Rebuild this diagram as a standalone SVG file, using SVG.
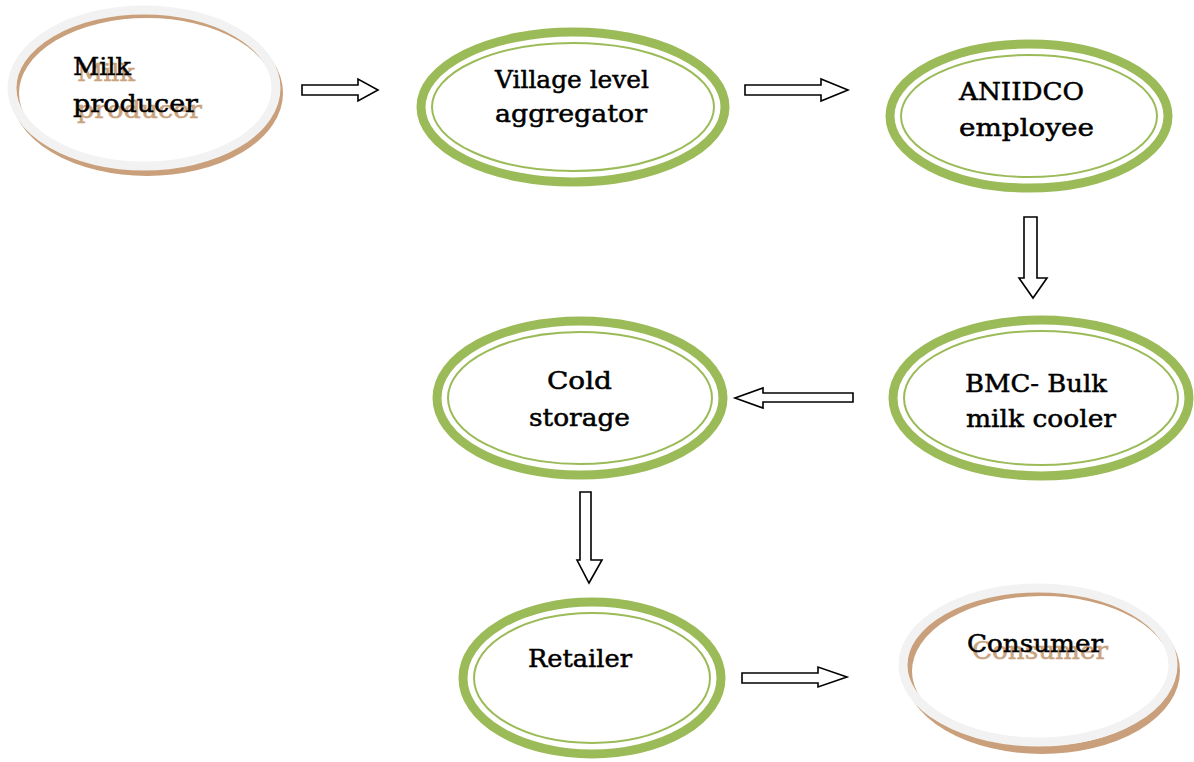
<svg xmlns="http://www.w3.org/2000/svg" width="1194" height="762" viewBox="0 0 1194 762">
  <defs>
    <style>
      .ring-out { fill: #ffffff; stroke: #9bbb59; stroke-width: 9; }
      .ring-in { fill: none; stroke: #9bbb59; stroke-width: 2; }
      .plate-fill { fill: #ffffff; stroke: none; }
      .plate { fill: none; stroke: #f2f2f2; stroke-width: 9; }
      .plate-edge { fill: none; stroke: #c9a07b; stroke-width: 8; }
      .lbl { font-family: "DejaVu Serif", "Liberation Serif", serif; font-size: 24px; fill: #000000; stroke: #000000; stroke-width: 0.5; }
      .shadow { fill: #c9a27e; stroke: #c9a27e; }
      .arrow { fill: #ffffff; stroke: #000000; stroke-width: 1.6; stroke-linejoin: miter; }
    </style>
  </defs>

  <rect width="1194" height="762" fill="#ffffff"/>

  <!-- Milk producer: grey plate with a brown rim showing below-right -->
  <g id="milk-producer">
    <ellipse class="plate-fill" cx="144" cy="90" rx="134" ry="82"/>
    <ellipse class="plate-edge" cx="147" cy="93" rx="132" ry="79"/>
    <ellipse class="plate" cx="144" cy="88" rx="132" ry="78"/>
    <text class="lbl shadow" x="77" y="81" textLength="58" lengthAdjust="spacingAndGlyphs">Milk</text>
    <text class="lbl shadow" x="77" y="118" textLength="125" lengthAdjust="spacingAndGlyphs">producer</text>
    <text class="lbl" x="73" y="75" textLength="58" lengthAdjust="spacingAndGlyphs">Milk</text>
    <text class="lbl" x="73" y="112" textLength="125" lengthAdjust="spacingAndGlyphs">producer</text>
  </g>

  <!-- Village level aggregator -->
  <g id="village-aggregator">
    <ellipse class="ring-out" cx="573" cy="107" rx="152" ry="75"/>
    <ellipse class="ring-in" cx="573" cy="107" rx="141" ry="64"/>
    <text class="lbl" x="495" y="88" textLength="154" lengthAdjust="spacingAndGlyphs">Village level</text>
    <text class="lbl" x="495" y="122" textLength="152" lengthAdjust="spacingAndGlyphs">aggregator</text>
  </g>

  <!-- ANIIDCO employee -->
  <g id="aniidco-employee">
    <ellipse class="ring-out" cx="1029" cy="116" rx="139" ry="72"/>
    <ellipse class="ring-in" cx="1029" cy="116" rx="128" ry="61"/>
    <text class="lbl" x="959" y="100" textLength="125" lengthAdjust="spacingAndGlyphs">ANIIDCO</text>
    <text class="lbl" x="959" y="136" textLength="135" lengthAdjust="spacingAndGlyphs">employee</text>
  </g>

  <!-- BMC - Bulk milk cooler -->
  <g id="bmc">
    <ellipse class="ring-out" cx="1041" cy="398" rx="148" ry="78"/>
    <ellipse class="ring-in" cx="1041" cy="398" rx="137" ry="67"/>
    <text class="lbl" x="965" y="392" textLength="142" lengthAdjust="spacingAndGlyphs">BMC- Bulk</text>
    <text class="lbl" x="966" y="427" textLength="150" lengthAdjust="spacingAndGlyphs">milk cooler</text>
  </g>

  <!-- Cold storage -->
  <g id="cold-storage">
    <ellipse class="ring-out" cx="580" cy="398" rx="143" ry="77"/>
    <ellipse class="ring-in" cx="580" cy="398" rx="132" ry="66"/>
    <text class="lbl" x="547" y="389" textLength="65" lengthAdjust="spacingAndGlyphs">Cold</text>
    <text class="lbl" x="529" y="426" textLength="101" lengthAdjust="spacingAndGlyphs">storage</text>
  </g>

  <!-- Retailer -->
  <g id="retailer">
    <ellipse class="ring-out" cx="592" cy="678" rx="129" ry="76"/>
    <ellipse class="ring-in" cx="592" cy="678" rx="118" ry="65"/>
    <text class="lbl" x="528" y="667" textLength="104" lengthAdjust="spacingAndGlyphs">Retailer</text>
  </g>

  <!-- Consumer: grey plate with a brown rim showing below-right -->
  <g id="consumer">
    <ellipse class="plate-fill" cx="1039" cy="667" rx="137" ry="81"/>
    <ellipse class="plate-edge" cx="1042" cy="671" rx="134" ry="79"/>
    <ellipse class="plate" cx="1038" cy="665" rx="135" ry="77"/>
    <text class="lbl shadow" x="972" y="659" textLength="136" lengthAdjust="spacingAndGlyphs">Consumer</text>
    <text class="lbl" x="967" y="652" textLength="136" lengthAdjust="spacingAndGlyphs">Consumer</text>
  </g>

  <!-- Block arrows between stages -->
  <g id="connectors">
    <polygon class="arrow" points="302,85 358,85 358,79 378,90 358,101 358,95 302,95"/>
    <polygon class="arrow" points="745,85 821,85 821,79 848,90 821,101 821,95 745,95"/>
    <polygon class="arrow" points="1024,217 1037,217 1037,278 1047,278 1033,298 1019,278 1024,278"/>
    <polygon class="arrow" points="853,393 763,393 763,388 735,398 763,408 763,402 853,402"/>
    <polygon class="arrow" points="580,492 591,492 591,560 602,560 589,583 577,560 580,560"/>
    <polygon class="arrow" points="742,673 818,673 818,667 847,677 818,687 818,683 742,683"/>
  </g>
</svg>
